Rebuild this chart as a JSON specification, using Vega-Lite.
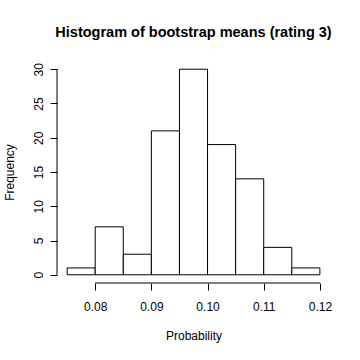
{
  "$schema": "https://vega.github.io/schema/vega-lite/v6.json",
  "width": 273,
  "height": 222,
  "autosize": {"type": "none"},
  "padding": {"left": 57, "top": 61, "right": 30, "bottom": 77},
  "background": "white",
  "title": {
    "text": "Histogram of bootstrap means (rating 3)",
    "font": "Liberation Sans",
    "fontSize": 14.5,
    "fontWeight": "bold",
    "color": "black",
    "anchor": "middle",
    "offset": 21
  },
  "config": {
    "view": {"stroke": null},
    "axis": {
      "domain": false,
      "grid": false,
      "ticks": true,
      "tickSize": 7,
      "tickColor": "black",
      "tickWidth": 1,
      "labelFont": "Liberation Sans",
      "labelFontSize": 12,
      "labelColor": "black",
      "labelOverlap": false,
      "labelFlush": false,
      "titleFont": "Liberation Sans",
      "titleFontSize": 12,
      "titleFontWeight": "normal",
      "titleColor": "black"
    }
  },
  "layer": [
    {
      "data": {
        "values": [
          {"start": 0.075, "end": 0.080, "count": 1},
          {"start": 0.080, "end": 0.085, "count": 7},
          {"start": 0.085, "end": 0.090, "count": 3},
          {"start": 0.090, "end": 0.095, "count": 21},
          {"start": 0.095, "end": 0.100, "count": 30},
          {"start": 0.100, "end": 0.105, "count": 19},
          {"start": 0.105, "end": 0.110, "count": 14},
          {"start": 0.110, "end": 0.115, "count": 4},
          {"start": 0.115, "end": 0.120, "count": 1}
        ]
      },
      "mark": {"type": "bar", "fill": "white", "stroke": "black", "strokeWidth": 1},
      "encoding": {
        "x": {
          "field": "start",
          "type": "quantitative",
          "title": "Probability",
          "scale": {"domain": [0.0732, 0.1218], "nice": false, "zero": false},
          "axis": {
            "values": [0.08, 0.09, 0.10, 0.11, 0.12],
            "format": ".2f",
            "labelPadding": 11,
            "labelBaseline": "top",
            "labelOverlap": false,
            "titlePadding": 18
          }
        },
        "x2": {"field": "end"},
        "y": {
          "field": "count",
          "type": "quantitative",
          "title": "Frequency",
          "scale": {"domain": [-1.2, 31.2], "nice": false, "zero": false},
          "axis": {
            "values": [0, 5, 10, 15, 20, 25, 30],
            "labelAngle": -90,
            "labelAlign": "center",
            "labelBaseline": "alphabetic",
            "labelPadding": 8,
            "labelOverlap": false,
            "titlePadding": 16
          }
        },
        "y2": {"datum": 0}
      }
    },
    {
      "data": {"values": [{"a": 0.08, "b": 0.12, "c": -1.2}]},
      "mark": {"type": "rule", "color": "black", "strokeWidth": 1},
      "encoding": {
        "x": {
          "field": "a",
          "type": "quantitative",
          "title": "Probability",
          "axis": {
            "values": [0.08, 0.09, 0.10, 0.11, 0.12],
            "format": ".2f",
            "labelPadding": 11,
            "labelBaseline": "top",
            "labelOverlap": false,
            "titlePadding": 18
          }
        },
        "x2": {"field": "b"},
        "y": {
          "field": "c",
          "type": "quantitative",
          "title": "Frequency",
          "axis": {
            "values": [0, 5, 10, 15, 20, 25, 30],
            "labelAngle": -90,
            "labelAlign": "center",
            "labelBaseline": "alphabetic",
            "labelPadding": 8,
            "labelOverlap": false,
            "titlePadding": 16
          }
        }
      }
    },
    {
      "data": {"values": [{"a": 0.0732, "c": 0, "d": 30}]},
      "mark": {"type": "rule", "color": "black", "strokeWidth": 1},
      "encoding": {
        "x": {
          "field": "a",
          "type": "quantitative",
          "title": "Probability",
          "axis": {
            "values": [0.08, 0.09, 0.10, 0.11, 0.12],
            "format": ".2f",
            "labelPadding": 11,
            "labelBaseline": "top",
            "labelOverlap": false,
            "titlePadding": 18
          }
        },
        "y": {
          "field": "c",
          "type": "quantitative",
          "title": "Frequency",
          "axis": {
            "values": [0, 5, 10, 15, 20, 25, 30],
            "labelAngle": -90,
            "labelAlign": "center",
            "labelBaseline": "alphabetic",
            "labelPadding": 8,
            "labelOverlap": false,
            "titlePadding": 16
          }
        },
        "y2": {"field": "d"}
      }
    }
  ]
}
